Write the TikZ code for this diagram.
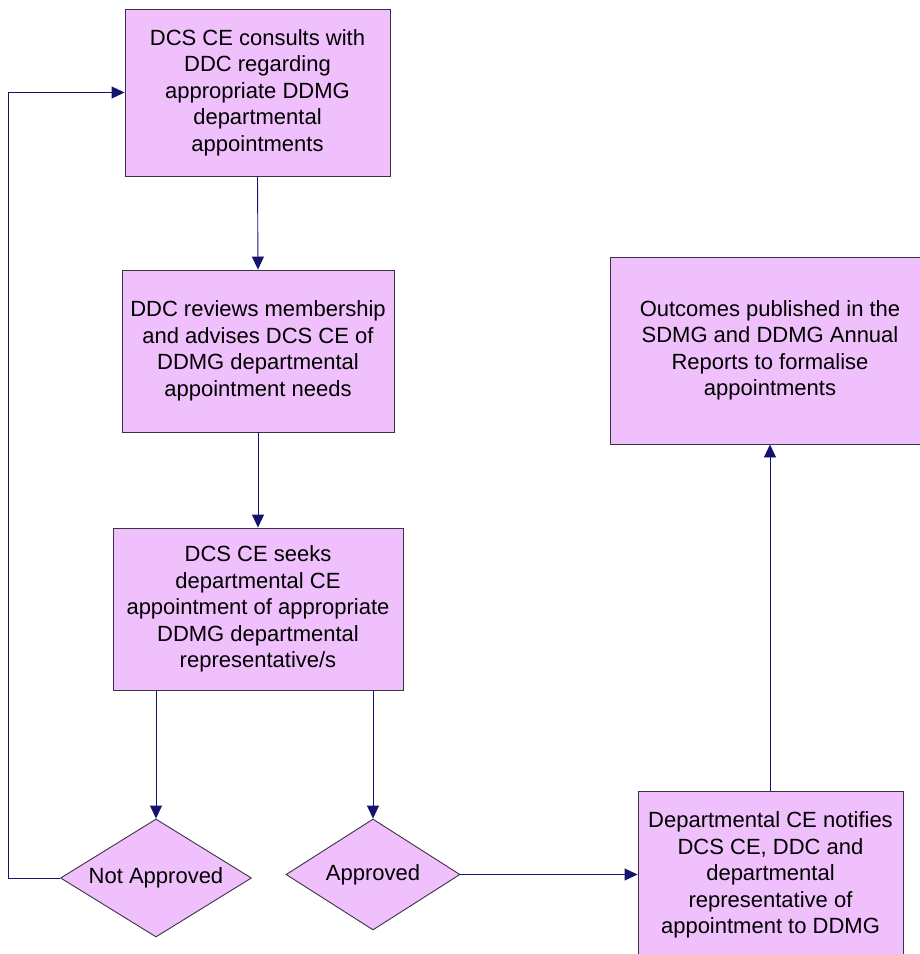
\documentclass[tikz,border=0pt]{standalone}
\usepackage{fontspec}
\setmainfont{Liberation Sans}
\usetikzlibrary{shapes.geometric,arrows.meta}
\definecolor{boxfill}{RGB}{239,192,251}
\definecolor{boxline}{RGB}{60,50,70}
\definecolor{conn}{RGB}{20,20,110}
\tikzset{
  procbox/.style={draw=boxline, fill=boxfill, line width=0.9pt, rectangle, align=center, inner sep=0pt,
    font=\fontsize{22}{26.5}\selectfont},
  decision/.style={draw=boxline, fill=boxfill, line width=0.9pt, diamond, aspect=1.6, inner sep=0pt, align=center,
    font=\fontsize{22}{26.5}\selectfont},
  conn/.style={draw=conn, line width=0.9pt, -{Triangle[width=12pt,length=13pt]}}
}
\begin{document}
\begin{tikzpicture}[x=1pt,y=-1pt]
\useasboundingbox (0,0) rectangle (920,954);
\node[procbox, minimum width=265pt, minimum height=167pt] (b1) at (257.5,92.5)
  {DCS CE consults with\\DDC regarding\\appropriate DDMG\\departmental\\appointments};
\node[procbox, minimum width=272pt, minimum height=162pt] (b2) at (258,351)
  {DDC reviews membership\\and advises DCS CE of\\DDMG departmental\\appointment needs};
\node[procbox, minimum width=290pt, minimum height=162pt] (b3) at (258,609)
  {DCS CE seeks\\departmental CE\\appointment of appropriate\\DDMG departmental\\representative/s};
\node[procbox, minimum width=320pt, minimum height=187pt] (b4) at (770,350.5)
  {Outcomes published in the\\SDMG and DDMG Annual\\Reports to formalise\\appointments};
\node[procbox, minimum width=265pt, minimum height=168pt] (b5) at (770.5,875)
  {Departmental CE notifies\\DCS CE, DDC and\\departmental\\representative of\\appointment to DDMG};
\node[decision, minimum width=191pt, minimum height=118pt] (na) at (156,878) {Not Approved};
\node[decision, minimum width=174pt, minimum height=111pt] (ap) at (373,874.5) {Approved};
\coordinate (lc) at (8,0);
\draw[conn] (b1.south) -- (b2.north);
\draw[conn] (b2.south) -- (b3.north);
\draw[conn] (b3.south -| na.north) -- (na.north);
\draw[conn] (b3.south -| ap.north) -- (ap.north);
\draw[conn] (na.west) -- (na.west -| lc) -- (b1.west -| lc) -- (b1.west);
\draw[conn] (ap.east) -- (ap.east -| b5.west);
\draw[conn] (b5.north -| 770,0) -- (b4.south -| 770,0);
\end{tikzpicture}
\end{document}
